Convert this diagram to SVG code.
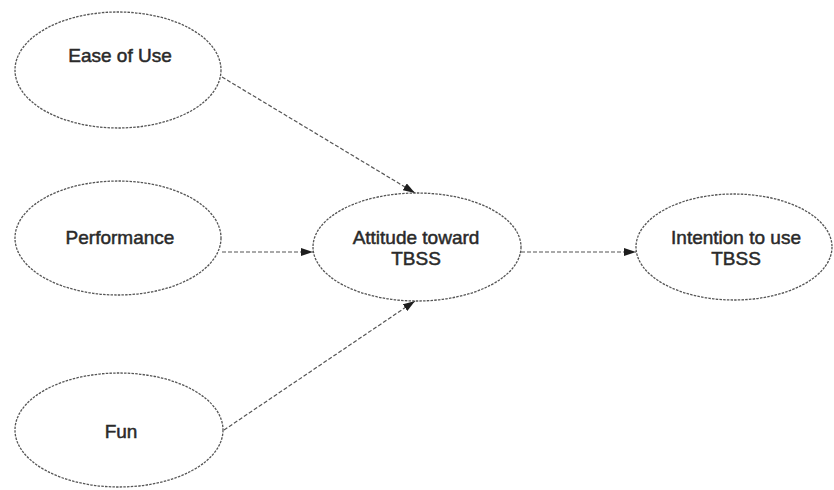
<svg xmlns="http://www.w3.org/2000/svg" width="834" height="490" viewBox="0 0 834 490">
<style>
.node ellipse{fill:#ffffff;stroke:#555;stroke-width:1.3;stroke-dasharray:2.5 1.2}
.node text{font-family:"Liberation Sans",Arial,sans-serif;font-size:19px;fill:#2a2a2a;stroke:#2a2a2a;stroke-width:0.5;text-anchor:middle}
.edge{stroke:#555;stroke-width:1.2;stroke-dasharray:4 2;fill:none;marker-end:url(#arr)}
</style>
<defs>
<marker id="arr" viewBox="0 0 12 8" refX="12" refY="4" markerWidth="12" markerHeight="8" markerUnits="userSpaceOnUse" orient="auto">
<path d="M0,0 L12,4 L0,8 Z" fill="#1e1e1e"/>
</marker>
</defs>
<rect width="834" height="490" fill="#ffffff"/>
<g id="connectors">
<line class="edge" x1="222" y1="77" x2="415" y2="193"/>
<line class="edge" x1="222" y1="252" x2="313" y2="252"/>
<line class="edge" x1="224" y1="430" x2="415" y2="301"/>
<line class="edge" x1="521" y1="252" x2="636" y2="252"/>
</g>
<g id="ease" class="node">
<ellipse cx="118" cy="70" rx="103" ry="58"/>
<text x="120" y="62">Ease of Use</text>
</g>
<g id="performance" class="node">
<ellipse cx="118" cy="238" rx="103" ry="57"/>
<text x="120" y="244">Performance</text>
</g>
<g id="fun" class="node">
<ellipse cx="119" cy="430" rx="104" ry="57"/>
<text x="121" y="438">Fun</text>
</g>
<g id="attitude" class="node">
<ellipse cx="417" cy="247" rx="104" ry="54"/>
<text x="416" y="244">Attitude toward</text>
<text x="416" y="265">TBSS</text>
</g>
<g id="intention" class="node">
<ellipse cx="734" cy="247" rx="98" ry="53"/>
<text x="736" y="244">Intention to use</text>
<text x="736" y="265">TBSS</text>
</g>
</svg>
